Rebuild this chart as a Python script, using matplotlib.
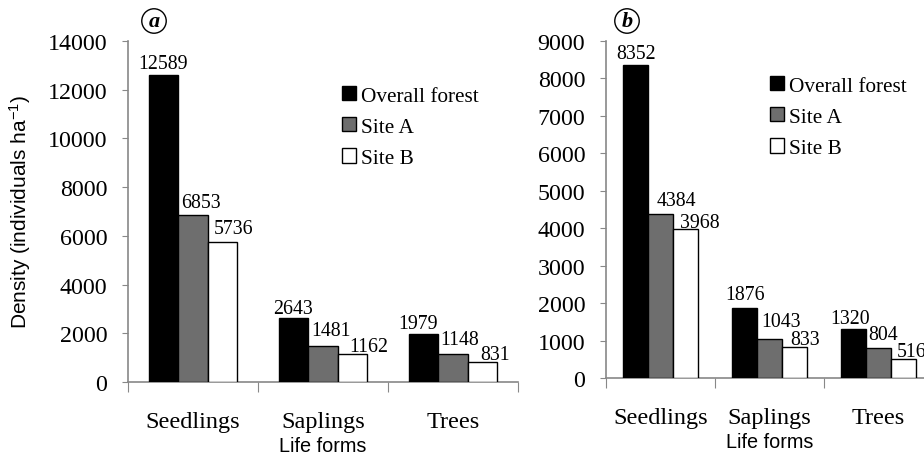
import matplotlib
matplotlib.use("Agg")
import matplotlib.pyplot as plt
import numpy as np

plt.rcParams["mathtext.fontset"] = "custom"
plt.rcParams["mathtext.rm"] = "Liberation Sans"
plt.rcParams["mathtext.it"] = "Liberation Sans:italic"

categories = ["Seedlings", "Saplings", "Trees"]
series_names = ["Overall forest", "Site A", "Site B"]
colors = ["#000000", "#6e6e6e", "#ffffff"]

a_overall = [12589, 2643, 1979]
a_siteA = [6853, 1481, 1148]
a_siteB = [5736, 1162, 831]

b_overall = [8352, 1876, 1320]
b_siteA = [4384, 1043, 804]
b_siteB = [3968, 833, 516]

a_yticks = [0, 2000, 4000, 6000, 8000, 10000, 12000, 14000]
b_yticks = [0, 1000, 2000, 3000, 4000, 5000, 6000, 7000, 8000, 9000]

# value-label placement (pixels): horizontal shift and gap above bar, per series/category
a_label_dx = [[0, 0, -5], [8, 8, 7], [11, 16, 13]]
a_label_gap = [[7, 5, 6], [8, 11, 10], [9, 3, 3]]
b_label_dx = [[0, 0, -4], [16, 12, 5], [15, 11, 8]]
b_label_gap = [[7, 9, 6], [9, 13, 9], [2, 3, 3]]

serif = ["Liberation Serif", "DejaVu Serif"]
sans = ["Liberation Sans", "DejaVu Sans"]

W, H = 924, 456
fig = plt.figure(figsize=(W / 100, H / 100), dpi=100)

def px_axes(x0, x1, ytop, ybot):
    return fig.add_axes([x0 / W, 1 - ybot / H, (x1 - x0) / W, (ybot - ytop) / H])

def draw(ax, data, yticks, ymax, label_dx, label_gap, legend_px, show_ylabel, ylabel_x):
    x = np.arange(len(categories))
    bw = 0.227
    for i, (vals, c, name) in enumerate(zip(data, colors, series_names)):
        pos = x + (i - 1) * bw
        ax.bar(pos, vals, width=bw, color=c, edgecolor="black", linewidth=1.0,
               label=name, zorder=3)
        for j, (p, v) in enumerate(zip(pos, vals)):
            ax.annotate(f"{v}", (p, v),
                        xytext=(label_dx[i][j] * 0.72, label_gap[i][j] * 0.72),
                        textcoords="offset points", ha="center", va="baseline",
                        fontsize=14.3, family=serif)
    ax.set_xlim(-0.5, len(categories) - 0.5)
    ax.set_ylim(0, ymax)
    ax.set_yticks(yticks)
    ax.set_yticklabels([str(t) for t in yticks], family=serif, fontsize=17.3)
    ax.set_xticks([-0.5, 0.5, 1.5, 2.5])
    ax.set_xticklabels([])
    ax.set_xticks(x, minor=True)
    ax.set_xticklabels(categories, minor=True, family=serif, fontsize=17.5)
    ax.tick_params(axis="x", which="minor", length=0, pad=21)
    ax.tick_params(axis="x", which="major", length=7, color="#888888", direction="out")
    ax.tick_params(axis="y", length=4, color="#888888", direction="out", pad=11)
    for s in ["top", "right"]:
        ax.spines[s].set_visible(False)
    for s in ["left", "bottom"]:
        ax.spines[s].set_color("#888888")
        ax.spines[s].set_linewidth(1.2)
    ax.set_xlabel("Life forms", family=sans, fontsize=14.3, labelpad=3)
    if show_ylabel:
        ax.set_ylabel("Density (individuals ha$^{-1}$)", family=sans, fontsize=15)
        ax.yaxis.set_label_coords(ylabel_x, 0.5)
    ax.legend(loc="upper left", bbox_to_anchor=(legend_px[0] / W, 1 - legend_px[1] / H),
              bbox_transform=fig.transFigure, frameon=False,
              prop={"family": serif, "size": 15.3}, handlelength=0.65,
              handleheight=0.65, handletextpad=0.25, labelspacing=0.55,
              borderpad=0, borderaxespad=0)
    return ax

axA = px_axes(128, 518, 42, 383)
draw(axA, [a_overall, a_siteA, a_siteB], a_yticks, 14000, a_label_dx, a_label_gap,
     (342, 87), True, (33 - 128) / 390)
axB = px_axes(606, 933, 42, 379)
draw(axB, [b_overall, b_siteA, b_siteB], b_yticks, 9000, b_label_dx, b_label_gap,
     (770, 77), False, 0)

for lbl, cx in [("a", 154), ("b", 627)]:
    fig.text(cx / W, 1 - 22 / H, lbl, family=serif, fontsize=16, fontweight="bold",
             style="italic", ha="center", va="center",
             bbox=dict(boxstyle="circle,pad=0.1", fc="white", ec="black", lw=1.0))

fig.savefig("out.png", dpi=100)
